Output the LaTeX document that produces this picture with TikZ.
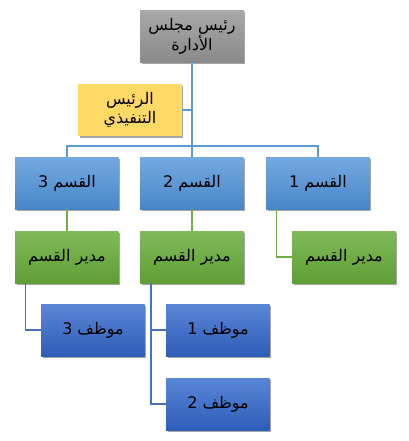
\documentclass[tikz,border=0pt]{standalone}
\usepackage{fontspec}
\newfontfamily\arabicfont[Script=Arabic]{DejaVu Sans}
\TeXXeTstate=1
\usetikzlibrary{shadows}
\definecolor{grayTop}{HTML}{A8A8A8}
\definecolor{grayBot}{HTML}{8A8A8A}
\definecolor{yel}{HTML}{FFD966}
\definecolor{secTop}{HTML}{74A9DF}
\definecolor{secBot}{HTML}{4886C9}
\definecolor{grnTop}{HTML}{80BA57}
\definecolor{grnBot}{HTML}{5E9E35}
\definecolor{empTop}{HTML}{5A86D6}
\definecolor{empBot}{HTML}{2E5DB8}
\definecolor{lineSec}{HTML}{5B9BD5}
\definecolor{lineGrn}{HTML}{70AD47}
\definecolor{lineEmp}{HTML}{4472C4}
\tikzset{
  box/.style={rectangle, anchor=north west, minimum width=103.5pt, minimum height=52pt,
    inner sep=2pt, align=center, text=black,
    font=\arabicfont\fontsize{16}{19}\selectfont,
    drop shadow={shadow xshift=1.5pt, shadow yshift=-1.5pt, opacity=0.35, fill=black}},
  grayBox/.style={box, top color=grayTop, bottom color=grayBot},
  yelBox/.style={box, fill=yel},
  secBox/.style={box, top color=secTop, bottom color=secBot},
  grnBox/.style={box, top color=grnTop, bottom color=grnBot},
  empBox/.style={box, top color=empTop, bottom color=empBot},
  conn/.style={line width=1.6pt},
}
\begin{document}
\begin{tikzpicture}[x=1pt, y=-1pt]
\useasboundingbox (0,0) rectangle (408,441);
\path
  (140,10) node[grayBox] (top) {\beginR رئيس مجلس\endR\\\beginR الأدارة\endR}
  (78,84) node[yelBox] (exec) {\beginR الرئيس\endR\\\beginR التنفيذي\endR}
  (15,157) node[secBox] (s3) {\beginR القسم 3\endR}
  (140,157) node[secBox] (s2) {\beginR القسم 2\endR}
  (266,157) node[secBox] (s1) {\beginR القسم 1\endR}
  (15,231) node[grnBox] (g3) {\beginR مدير القسم\endR}
  (140,231) node[grnBox] (g2) {\beginR مدير القسم\endR}
  (292,231) node[grnBox] (g1) {\beginR مدير القسم\endR}
  (41,304) node[empBox] (e3) {\beginR موظف 3\endR}
  (166,304) node[empBox] (e1) {\beginR موظف 1\endR}
  (166,378) node[empBox] (e2) {\beginR موظف 2\endR};
\draw[conn, lineSec] (top.south) -- (s2.north);
\draw[conn, lineSec] (exec.east) -- (exec.east -| top.south);
\draw[conn, lineSec] (s3.north) -- ++(0,-11) -| (s1.north);
\draw[conn, lineGrn] (s3.south) -- (g3.north);
\draw[conn, lineGrn] (s2.south) -- (g2.north);
\draw[conn, lineGrn] ([xshift=-41.5pt]s1.south) |- (g1.west);
\draw[conn, lineEmp] ([xshift=-41.5pt]g3.south) |- (e3.west);
\draw[conn, lineEmp] ([xshift=-41pt]g2.south) |- (e1.west);
\draw[conn, lineEmp] ([xshift=-41pt]g2.south) |- (e2.west);
\end{tikzpicture}
\end{document}
